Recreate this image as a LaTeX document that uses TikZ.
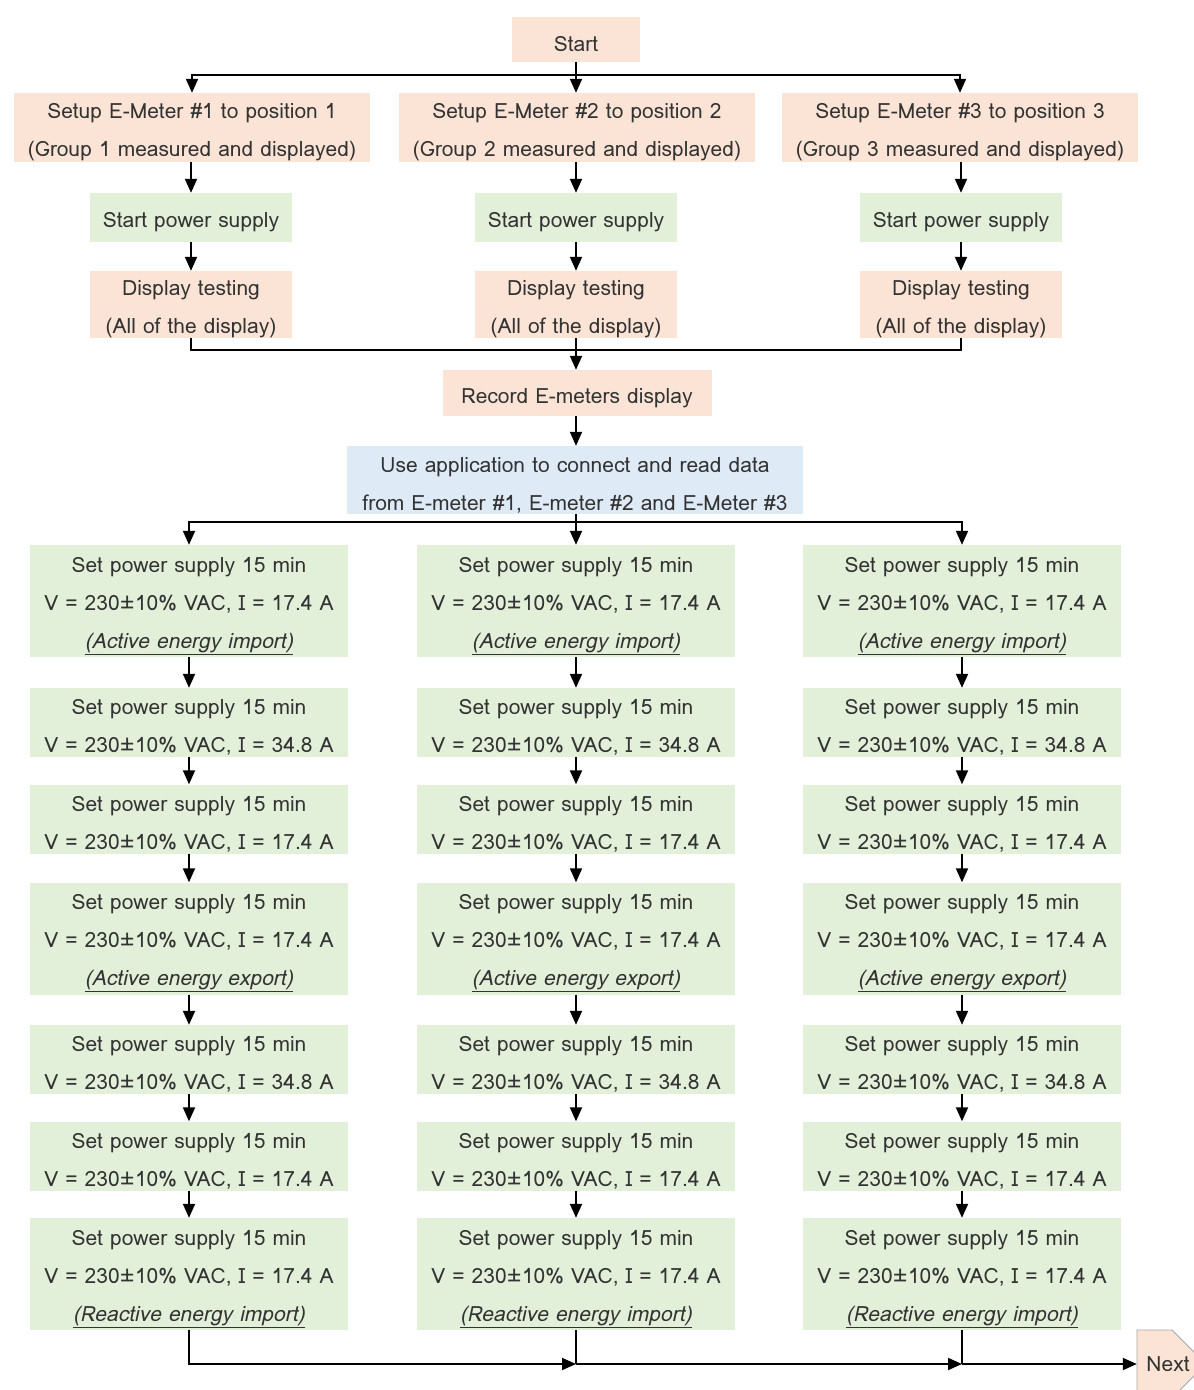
\documentclass[tikz,border=0pt]{standalone}
\usepackage{fontspec}
\setmainfont{Loma}
\usetikzlibrary{arrows.meta}
\definecolor{peach}{HTML}{FBE4D5}
\definecolor{mint}{HTML}{E2EFD9}
\definecolor{sky}{HTML}{DEEAF6}
\definecolor{ink}{HTML}{333333}
\newcommand{\psset}{Set power supply 15 min}
\newcommand{\psvolt}[1]{V = 230±10\% VAC, I = #1 A}
\newcommand{\psmode}[1]{\underline{\textit{(#1)}}}
% filled box with its text set a little below the geometric centre
\newcommand{\stepnode}[4]{%
  \node[#1] (#2) at #3 {};
  \node[txt] (#2-t) at ([yshift=-5pt]#2.center) {#4};}
\begin{document}
\begin{tikzpicture}[x=1pt,y=-1pt,
  base/.style={rectangle, inner sep=0pt},
  txt/.style={inner sep=0pt, align=center, text=ink,
    font=\fontsize{21}{38}\selectfont},
  orangebox/.style={base, fill=peach},
  greenbox/.style={base, fill=mint},
  bluebox/.style={base, fill=sky},
  setupbox/.style={orangebox, minimum width=356, minimum height=69},
  smallbox/.style={minimum width=202},
  tall/.style={greenbox, minimum width=318, minimum height=112},
  short/.style={greenbox, minimum width=318, minimum height=69},
  link/.style={line width=1.9pt, draw=black},
  arr/.style={link, -{Triangle[length=14pt,width=12pt]}}]
\useasboundingbox (0,0) rectangle (1194,1390);

% start and the three set-up branches
\stepnode{orangebox, minimum width=128, minimum height=45}{start}{(576,39.5)}{Start}
\stepnode{setupbox}{s1}{(192,127.5)}{Setup E-Meter \#1 to position 1\\(Group 1 measured and displayed)}
\stepnode{setupbox}{s2}{(577,127.5)}{Setup E-Meter \#2 to position 2\\(Group 2 measured and displayed)}
\stepnode{setupbox}{s3}{(960,127.5)}{Setup E-Meter \#3 to position 3\\(Group 3 measured and displayed)}

\foreach \c/\x in {1/191,2/576,3/961}{
  \stepnode{greenbox, smallbox, minimum height=49}{p\c}{(\x,217.5)}{Start power supply}
  \stepnode{orangebox, smallbox, minimum height=67}{d\c}{(\x,304.5)}{Display testing\\(All of the display)}
}

\stepnode{orangebox, minimum width=269, minimum height=46}{rec}{(577,393)}{Record E-meters display}
\stepnode{bluebox, minimum width=456, minimum height=68}{use}{(575,480)}
  {Use application to connect and read data\\from E-meter \#1, E-meter \#2 and E-Meter \#3}

% measurement sequence, one column per meter
\foreach \c/\x in {1/189,2/576,3/962}{
  \stepnode{tall}{g\c r1}{(\x,601)}{\psset\\\psvolt{17.4}\\\psmode{Active energy import}}
  \stepnode{short}{g\c r2}{(\x,722.5)}{\psset\\\psvolt{34.8}}
  \stepnode{short}{g\c r3}{(\x,819)}{\psset\\\psvolt{17.4}}
  \stepnode{tall}{g\c r4}{(\x,938.5)}{\psset\\\psvolt{17.4}\\\psmode{Active energy export}}
  \stepnode{short}{g\c r5}{(\x,1059.5)}{\psset\\\psvolt{34.8}}
  \stepnode{short}{g\c r6}{(\x,1156)}{\psset\\\psvolt{17.4}}
  \stepnode{tall}{g\c r7}{(\x,1274)}{\psset\\\psvolt{17.4}\\\psmode{Reactive energy import}}
}

% off-page connector
\filldraw[fill=peach, draw=gray!70, line width=0.8pt]
  (1137,1330) -- (1172,1330) -- (1206,1364) -- (1172,1398) -- (1137,1398) -- cycle;
\node[inner sep=0pt, minimum width=62, minimum height=68, text=ink,
  font=\fontsize{21}{24}\selectfont] (next) at (1168,1364) {Next};

% split below start
\coordinate (t) at (576,75);
\draw[arr] (start.south) -- (s2.north -| start.south);
\draw[arr] (t) -| (s1.north);
\draw[arr] (t) -| (s3.north);

\foreach \c in {1,2,3}{
  \draw[arr] (s\c.south -| p\c) -- (p\c.north);
  \draw[arr] (p\c) -- (d\c);
  \foreach \r/\n in {1/2,2/3,3/4,4/5,5/6,6/7}{
    \draw[arr] (g\c r\r.south) -- (g\c r\r.south |- g\c r\n.north);
  }
}

% merge of the display tests
\coordinate (m) at (576,350);
\draw[link] (d1.south) |- (m);
\draw[link] (d3.south) |- (m);
\draw[arr] (d2.south) -- (rec.north -| d2.south);
\draw[arr] (rec.south -| d2.south) -- (use.north -| d2.south);

% split below the data read-out
\coordinate (u) at (576,522);
\draw[arr] (use.south -| g2r1.north) -- (g2r1.north);
\draw[arr] (u) -| (g1r1.north);
\draw[arr] (u) -| (g3r1.north);

% joining line towards the next page
\coordinate (b2) at (g2r7.south |- next.west);
\coordinate (b3) at (g3r7.south |- next.west);
\draw[arr] (g1r7.south) |- (b2);
\draw[link] (g2r7.south) -- (b2);
\draw[arr] (b2) -- (b3);
\draw[link] (g3r7.south) -- (b3);
\draw[arr] (b3) -- (next.west);
\end{tikzpicture}
\end{document}
